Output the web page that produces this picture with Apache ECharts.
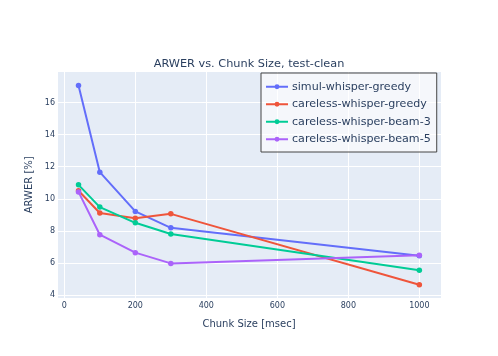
<!DOCTYPE html>
<html>
<head>
<meta charset="utf-8">
<script src="https://cdn.jsdelivr.net/npm/echarts@6/dist/echarts.min.js"></script>
<style>html,body{margin:0;padding:0;background:#fff}#c{width:498px;height:356px}</style>
</head>
<body>
<div id="c"></div>
<script>
const chunkSizes = [40, 100, 200, 300, 1000];
const simulGreedy = [17.07, 11.66, 9.21, 8.19, 6.45];
const carelessGreedy = [10.50, 9.11, 8.78, 9.06, 4.64];
const carelessBeam3 = [10.87, 9.48, 8.50, 7.80, 5.54];
const carelessBeam5 = [10.43, 7.76, 6.64, 5.97, 6.47];
const seriesNames = ['simul-whisper-greedy', 'careless-whisper-greedy', 'careless-whisper-beam-3', 'careless-whisper-beam-5'];
const seriesData = [simulGreedy, carelessGreedy, carelessBeam3, carelessBeam5];
const colors = ['#636efa', '#EF553B', '#00cc96', '#ab63fa'];

const FONT = 'DejaVu Sans';
const TXT = '#2a3f5f';

const chart = echarts.init(document.getElementById('c'), null, {renderer: 'canvas'});
chart.setOption({
  animation: false,
  color: colors,
  textStyle: {fontFamily: FONT, color: TXT},
  title: {
    text: 'ARWER vs. Chunk Size, test-clean',
    left: 'center', top: 54,
    textStyle: {fontFamily: FONT, fontSize: 11.3, fontWeight: 'normal', color: TXT}
  },
  grid: {
    left: 57, right: 57, top: 71, bottom: 57.5,
    show: true, backgroundColor: '#E5ECF6', borderWidth: 0
  },
  legend: {
    orient: 'vertical',
    left: 261, top: 73,
    padding: [7, 6, 6, 4],
    itemWidth: 22, itemHeight: 6, itemGap: 4,
    backgroundColor: 'rgba(255,255,255,0.6)',
    borderColor: '#444', borderWidth: 1,
    textStyle: {fontFamily: FONT, fontSize: 11.1, color: TXT, lineHeight: 13.5, padding: [0,0,0,-1]},
    data: seriesNames
  },
  xAxis: {
    type: 'value',
    min: -20.6, max: 1061,
    minInterval: 200, maxInterval: 200,
    name: 'Chunk Size [msec]',
    nameLocation: 'middle', nameGap: 21,
    nameTextStyle: {fontFamily: FONT, fontSize: 10, color: TXT},
    axisLine: {show: false}, axisTick: {show: false},
    axisLabel: {fontFamily: FONT, fontSize: 8, color: TXT, margin: 3, showMinLabel: false, showMaxLabel: false,
      formatter: v => String(v)},
    splitLine: {show: true, lineStyle: {color: '#fff', width: 1}}
  },
  yAxis: {
    type: 'value',
    min: 3.78, max: 17.97,
    minInterval: 2, maxInterval: 2,
    name: 'ARWER [%]',
    nameLocation: 'middle', nameGap: 22,
    nameTextStyle: {fontFamily: FONT, fontSize: 10, color: TXT},
    axisLine: {show: false}, axisTick: {show: false},
    axisLabel: {fontFamily: FONT, fontSize: 8, color: TXT, margin: 2, showMinLabel: false, showMaxLabel: false,
      formatter: v => String(v)},
    splitLine: {show: true, lineStyle: {color: '#fff', width: 1}}
  },
  series: seriesNames.map((n, i) => ({
    name: n,
    type: 'line',
    data: chunkSizes.map((x, j) => [x, seriesData[i][j]]),
    symbol: 'circle', symbolSize: 5.5,
    lineStyle: {width: 2, color: colors[i]},
    itemStyle: {color: colors[i]}
  }))
});
</script>
</body>
</html>
